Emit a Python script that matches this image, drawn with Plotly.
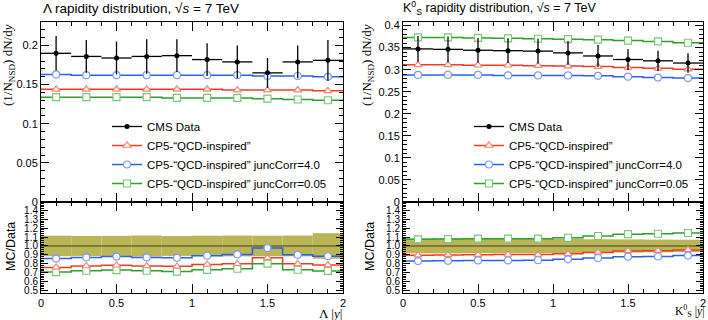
import plotly.graph_objects as go

# ---------------- data ----------------
bin_edges = [0.0, 0.2, 0.4, 0.6, 0.8, 1.0, 1.2, 1.4, 1.6, 1.8, 2.0]
bin_centers = [0.1, 0.3, 0.5, 0.7, 0.9, 1.1, 1.3, 1.5, 1.7, 1.9]
bin_halfwidth = [0.1] * 10

# Lambda
lam_data = [0.190, 0.186, 0.184, 0.186, 0.187, 0.182, 0.179, 0.165, 0.179, 0.181]
lam_err = [0.022, 0.021, 0.021, 0.022, 0.021, 0.021, 0.021, 0.019, 0.021, 0.026]
lam_red = [0.144, 0.144, 0.144, 0.144, 0.144, 0.144, 0.143, 0.143, 0.143, 0.142]
lam_blue = [0.163, 0.162, 0.162, 0.162, 0.162, 0.162, 0.162, 0.161, 0.161, 0.160]
lam_green = [0.134, 0.134, 0.134, 0.134, 0.133, 0.133, 0.133, 0.132, 0.131, 0.130]

# K0S
k_data = [0.347, 0.346, 0.344, 0.343, 0.342, 0.338, 0.331, 0.323, 0.320, 0.315]
k_err = [0.029, 0.029, 0.028, 0.028, 0.028, 0.027, 0.025, 0.024, 0.023, 0.022]
k_red = [0.311, 0.311, 0.310, 0.310, 0.309, 0.308, 0.307, 0.305, 0.303, 0.301]
k_blue = [0.288, 0.288, 0.288, 0.287, 0.287, 0.287, 0.286, 0.284, 0.282, 0.281]
k_green = [0.373, 0.373, 0.372, 0.371, 0.370, 0.369, 0.368, 0.366, 0.364, 0.361]

names = ["CMS Data", "CP5-“QCD-inspired”", "CP5-“QCD-inspired” juncCorr=4.0",
         "CP5-“QCD-inspired” juncCorr=0.05"]

# ---------------- styles ----------------
MC_STYLE = {
    "red": dict(line="rgb(238,60,35)", mk="rgb(245,135,115)", sym="triangle-up"),
    "blue": dict(line="rgb(45,95,235)", mk="rgb(125,155,245)", sym="circle"),
    "green": dict(line="rgb(45,160,45)", mk="rgb(120,200,120)", sym="square"),
}
BAND = "rgb(186,182,88)"
ONE_LINE = "rgb(105,103,45)"
SANS = "Liberation Sans, Arial, sans-serif"
SERIF = "Liberation Serif, Times New Roman, serif"

fig = go.Figure()


def add_mc(values, color, xa, ya, ratio_to=None):
    st = MC_STYLE[color]
    vals = values if ratio_to is None else [v / d for v, d in zip(values, ratio_to)]
    fig.add_trace(go.Scatter(
        x=bin_edges, y=vals + [vals[-1]], mode="lines", line_shape="hv",
        line=dict(color=st["line"], width=1.5), xaxis=xa, yaxis=ya,
        showlegend=False, hoverinfo="skip"))
    fig.add_trace(go.Scatter(
        x=bin_centers, y=vals, mode="markers",
        marker=dict(symbol=st["sym"], size=7, color="white",
                    line=dict(color=st["mk"], width=1.2)),
        xaxis=xa, yaxis=ya, showlegend=False))


def add_panel(data, err, red, blue, green, xm, ym, xr, yr, legend):
    for vals, c in ((green, "green"), (red, "red"), (blue, "blue")):
        add_mc(vals, c, xm, ym)
    fig.add_trace(go.Scatter(
        x=bin_centers, y=data, mode="markers", xaxis=xm, yaxis=ym,
        marker=dict(color="black", size=5),
        error_y=dict(type="data", array=err, width=0, thickness=1.3, color="black"),
        error_x=dict(type="data", array=bin_halfwidth, width=0, thickness=1.3, color="black"),
        showlegend=False))
    # legend entries
    fig.add_trace(go.Scatter(x=[None], y=[None], mode="lines+markers", name=names[0],
                             line=dict(color="black", width=1.3),
                             marker=dict(color="black", size=5), legend=legend,
                             xaxis=xm, yaxis=ym))
    for nm, c in zip(names[1:], ("red", "blue", "green")):
        st = MC_STYLE[c]
        fig.add_trace(go.Scatter(x=[None], y=[None], mode="lines+markers", name=nm,
                                 line=dict(color=st["line"], width=1.5),
                                 marker=dict(symbol=st["sym"], size=7, color="white",
                                             line=dict(color=st["mk"], width=1.2)),
                                 legend=legend, xaxis=xm, yaxis=ym))
    # ratio panel
    rel = [e / d for e, d in zip(err, data)]
    fig.add_trace(go.Bar(
        x=bin_centers, y=[2 * r for r in rel], base=[1 - r for r in rel], width=0.2,
        marker=dict(color=BAND, line=dict(width=0)), xaxis=xr, yaxis=yr,
        showlegend=False, hoverinfo="skip"))
    fig.add_trace(go.Scatter(
        x=bin_edges, y=[d / d for d in data] + [1.0], mode="lines", line_shape="hv",
        line=dict(color=ONE_LINE, width=1.5), xaxis=xr, yaxis=yr, showlegend=False))
    for vals, c in ((green, "green"), (red, "red"), (blue, "blue")):
        add_mc(vals, c, xr, yr, ratio_to=data)


add_panel(lam_data, lam_err, lam_red, lam_blue, lam_green, "x", "y", "x3", "y3", "legend")
add_panel(k_data, k_err, k_red, k_blue, k_green, "x2", "y2", "x4", "y4", "legend2")

W, H = 708, 320
L_DOM = [41 / W, 343 / W]
R_DOM = [403 / W, 703 / W]
MAIN_DOM = [1 - 202 / H, 1 - 22 / H]
RAT_DOM = [1 - 293 / H, 1 - 202 / H]

common = dict(showline=True, linecolor="black", linewidth=1, mirror="allticks",
              ticks="inside", showgrid=False, zeroline=False, automargin=False,
              tickcolor="black", tickfont=dict(family=SANS, size=11, color="black"))


def xax(domain, anchor, labels):
    return dict(common, domain=domain, anchor=anchor, range=[0, 2], tick0=0, dtick=0.5,
                ticklen=9, showticklabels=labels,
                minor=dict(ticks="inside", dtick=0.1, ticklen=4, tickcolor="black"))


def ymain(domain, anchor, rng):
    return dict(common, domain=domain, anchor=anchor, range=rng, tick0=0, dtick=0.05,
                ticklen=8, minor=dict(ticks="inside", dtick=0.01, ticklen=4, tickcolor="black"))


def yrat(domain, anchor):
    return dict(common, domain=domain, anchor=anchor, range=[0.47, 1.495], tick0=0, dtick=0.1,
                tickformat=".1f", ticklen=7,
                tickfont=dict(family=SANS, size=10, color="black"),
                minor=dict(ticks="inside", dtick=0.02, ticklen=3, tickcolor="black"))


leg_common = dict(xanchor="left", yanchor="top", bgcolor="rgba(0,0,0,0)",
                  font=dict(family=SANS, size=11.5, color="black"), itemwidth=30,
                  tracegroupgap=0)

fig.update_layout(
    width=W, height=H, margin=dict(l=0, r=0, t=0, b=0),
    paper_bgcolor="white", plot_bgcolor="white", barmode="overlay",
    xaxis=xax(L_DOM, "y", False), yaxis=ymain(MAIN_DOM, "x", [0, 0.23]),
    xaxis2=xax(R_DOM, "y2", False), yaxis2=ymain(MAIN_DOM, "x2", [0, 0.408]),
    xaxis3=xax(L_DOM, "y3", True), yaxis3=yrat(RAT_DOM, "x3"),
    xaxis4=xax(R_DOM, "y4", True), yaxis4=yrat(RAT_DOM, "x4"),
    legend=dict(leg_common, x=107 / W, y=1 - 112 / H),
    legend2=dict(leg_common, x=469 / W, y=1 - 112 / H),
    showlegend=True,
)

ann = [
    dict(text="Λ rapidity distribution, √<i>s</i> = 7 TeV", x=41 / W, y=1 - 8 / H,
         xanchor="left", yanchor="middle", font=dict(family=SANS, size=13.5)),
    dict(text="K<sup>0</sup><sub>S</sub> rapidity distribution, √<i>s</i> = 7 TeV", x=401 / W,
         y=1 - 8 / H, xanchor="left", yanchor="middle", font=dict(family=SANS, size=12.5)),
    dict(text="(1/N<sub>NSD</sub>) dN/d<i>y</i>", x=8 / W, y=1 - 22 / H, textangle=-90,
         xanchor="center", yanchor="top", font=dict(family=SERIF, size=13)),
    dict(text="(1/N<sub>NSD</sub>) dN/d<i>y</i>", x=367 / W, y=1 - 22 / H, textangle=-90,
         xanchor="center", yanchor="top", font=dict(family=SERIF, size=13)),
    dict(text="MC/Data", x=11 / W, y=1 - 247 / H, textangle=-90,
         xanchor="center", yanchor="middle", font=dict(family=SANS, size=12.5)),
    dict(text="MC/Data", x=370 / W, y=1 - 247 / H, textangle=-90,
         xanchor="center", yanchor="middle", font=dict(family=SANS, size=12.5)),
    dict(text="Λ |<i>y</i>|", x=344 / W, y=1 - 313 / H, xanchor="right", yanchor="middle",
         font=dict(family=SERIF, size=13)),
    dict(text="K<sup>0</sup><sub>S</sub> |<i>y</i>|", x=706 / W, y=1 - 311 / H,
         xanchor="right", yanchor="middle", font=dict(family=SERIF, size=11.5)),
]
for a in ann:
    a.update(xref="paper", yref="paper", showarrow=False)
    a["font"]["color"] = "black"
fig.update_layout(annotations=ann)

fig.write_html("out.html", config={"displayModeBar": False},
               post_script="document.body.style.margin='0px';")
